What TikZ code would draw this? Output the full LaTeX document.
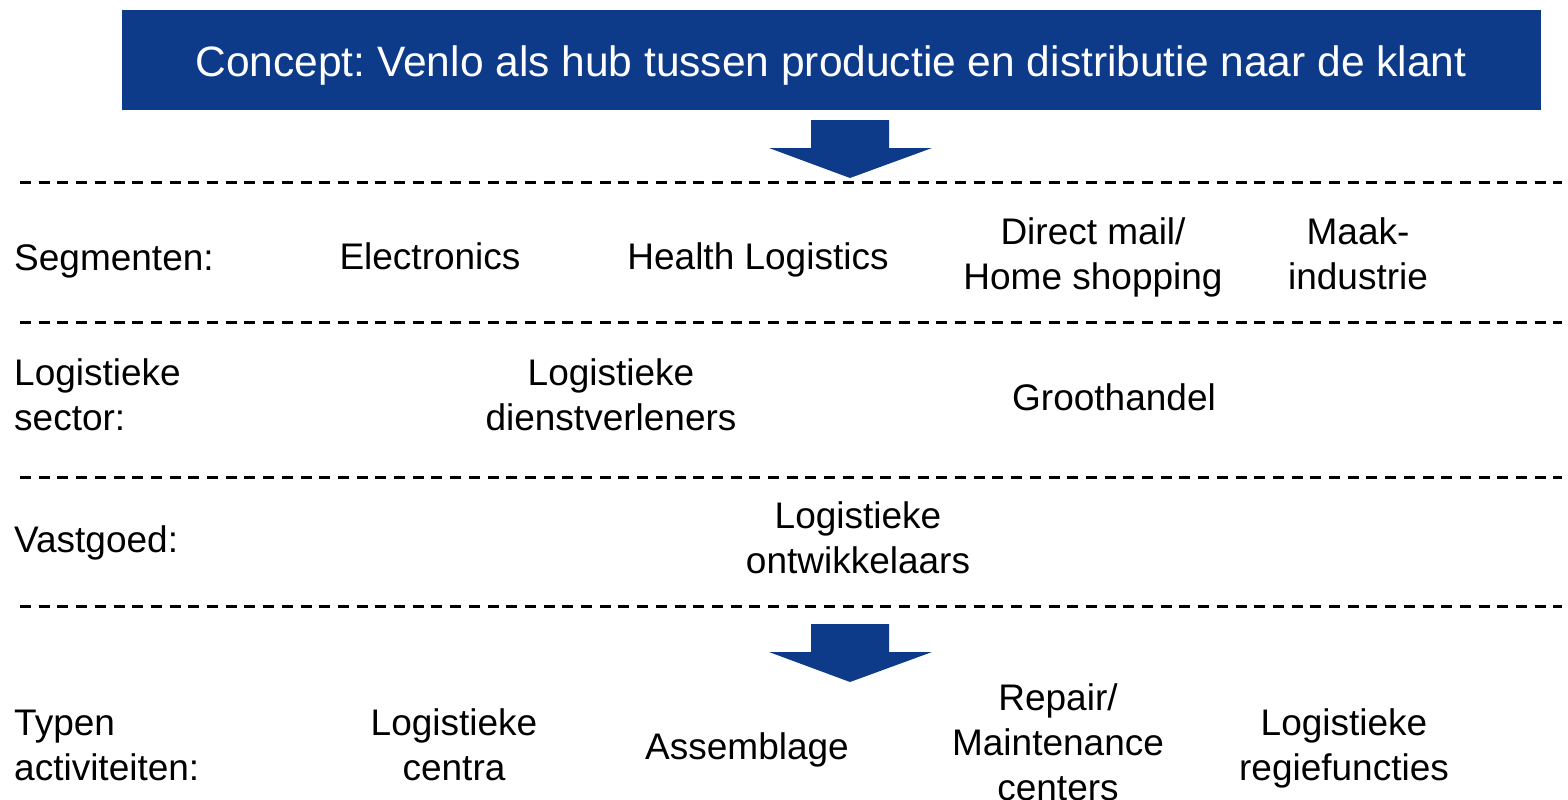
\documentclass[tikz,border=0pt]{standalone}
\usepackage{fontspec}
\setmainfont{Liberation Sans}
\frenchspacing
\definecolor{hubblue}{RGB}{13,59,138}
\begin{document}
\begin{tikzpicture}[x=1pt,y=-1pt,
  lbl/.style={font=\fontsize{37}{45}\selectfont, inner sep=0pt, align=center, anchor=north},
  lft/.style={lbl, align=left, anchor=north west},
  sep/.style={line width=3pt, dash pattern=on 11pt off 7.7pt},
  bigarrow/.style={fill=hubblue}]
\useasboundingbox (0,0) rectangle (1568,800);
% title box
\node[fill=hubblue, minimum width=1419pt, minimum height=100pt, inner sep=0pt, anchor=north west] (box) at (122,10) {};
\node[font=\fontsize{42.5}{48}\selectfont, text=white, inner sep=0pt, anchor=base] (title) at (831,76) {Concept: Venlo als hub tussen productie en distributie naar de klant};
% arrows
\fill[bigarrow] (811,120) -- (889,120) -- (889,148) -- (932,148) -- (850,178) -- (769,148) -- (811,148) -- cycle;
\fill[bigarrow] (811,624) -- (889,624) -- (889,652) -- (932,652) -- (850,682) -- (769,652) -- (811,652) -- cycle;
% separators
\coordinate (s1a) at (20,182); \coordinate (s1b) at (1562,182);
\coordinate (s2a) at (20,322); \coordinate (s2b) at (1562,322);
\coordinate (s3a) at (20,477); \coordinate (s3b) at (1562,477);
\coordinate (s4a) at (20,606); \coordinate (s4b) at (1562,606);
\draw[sep] (s1a) -- (s1b);
\draw[sep] (s2a) -- (s2b);
\draw[sep] (s3a) -- (s3b);
\draw[sep] (s4a) -- (s4b);
% row 1
\node[lft] (seg) at (14,238.5) {\strut Segmenten:};
\node[lbl] (elec) at (430,237.5) {\strut Electronics};
\node[lbl] (health) at (758,237.5) {\strut Health Logistics};
\node[lbl] (direct) at (1093,212.5) {\strut Direct mail/\\\strut Home shopping};
\node[lbl] (maak) at (1358,212.5) {\strut Maak-\\\strut industrie};
% row 2
\node[lft] (sector) at (14,353.5) {\strut Logistieke\\\strut sector:};
\node[lbl] (dienst) at (611,353.5) {\strut Logistieke\\\strut dienstverleners};
\node[lbl] (groot) at (1114,378.5) {\strut Groothandel};
% row 3
\node[lft] (vast) at (14,520.5) {\strut Vastgoed:};
\node[lbl] (ontw) at (858,496.5) {\strut Logistieke\\\strut ontwikkelaars};
% row 4
\node[lft] (typen) at (14,703.5) {\strut Typen\\\strut activiteiten:};
\node[lbl] (centra) at (454,703.5) {\strut Logistieke\\\strut centra};
\node[lbl] (assem) at (747,727.5) {\strut Assemblage};
\node[lbl] (repair) at (1058,678.5) {\strut Repair/\\\strut Maintenance\\\strut centers};
\node[lbl] (regie) at (1344,703.5) {\strut Logistieke\\\strut regiefuncties};
\end{tikzpicture}
\end{document}
